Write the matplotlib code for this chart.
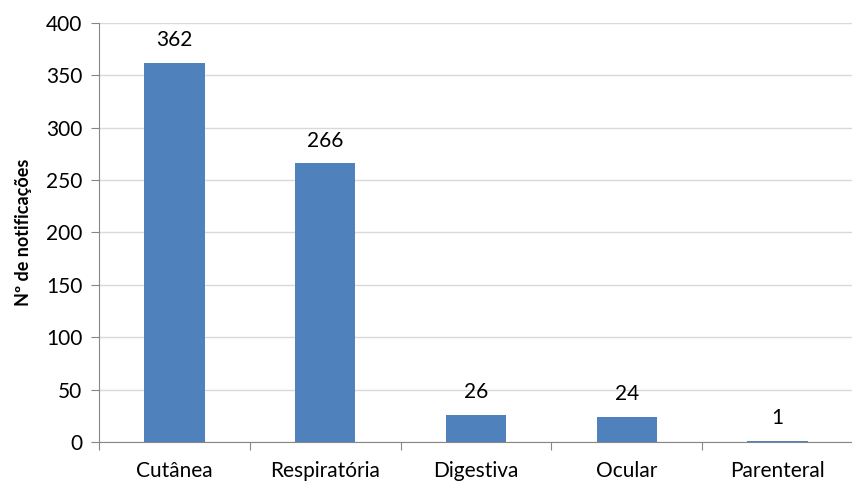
import matplotlib
matplotlib.use("Agg")
import matplotlib.pyplot as plt
import numpy as np

# data
categories = ["Cutânea", "Respiratória", "Digestiva", "Ocular", "Parenteral"]
values = [362, 266, 26, 24, 1]

plt.rcParams['font.family'] = ['Lato', 'DejaVu Sans']

fig = plt.figure(figsize=(8.53, 4.86), dpi=100)
ax = fig.add_axes([0.116, 0.0905, 0.884, 0.8625])

x = np.arange(len(categories))
bars = ax.bar(x, values, width=0.4, color='#4F81BD', zorder=3)

for xi, v in zip(x, values):
    ax.text(xi, v + 12, str(v), ha='center', va='bottom', fontsize=15, color='black')

ax.set_xlim(-0.5, len(categories) - 0.5)
ax.set_ylim(0, 400)
ax.set_yticks(np.arange(0, 401, 50))
ax.tick_params(axis='y', labelsize=15, length=6, color='#868686', pad=6)

# x ticks between categories, labels at centers
ax.set_xticks(np.arange(-0.5, len(categories), 1))
ax.set_xticklabels([])
ax.set_xticks(x, minor=True)
ax.set_xticklabels(categories, minor=True, fontsize=15)
ax.tick_params(axis='x', which='major', length=6, color='#868686', direction='out')
ax.tick_params(axis='x', which='minor', length=0, pad=14)

ax.grid(axis='y', color='#D9D9D9', linewidth=1, zorder=0)
for s in ['top', 'right']:
    ax.spines[s].set_visible(False)
for s in ['left', 'bottom']:
    ax.spines[s].set_color('#868686')

ax.set_ylabel('Nº de notificações', fontsize=13, fontweight='bold', labelpad=10)

fig.savefig('out.png', dpi=100)
